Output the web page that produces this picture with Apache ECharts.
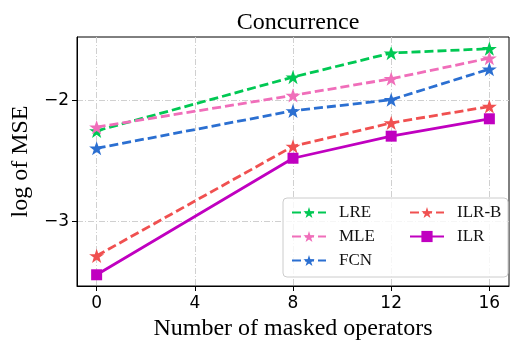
<!DOCTYPE html>
<html>
<head>
<meta charset="utf-8">
<script src="https://cdn.jsdelivr.net/npm/echarts@6/dist/echarts.min.js"></script>
<style>
  html, body { margin: 0; padding: 0; background: #fff; }
  #chart { width: 532px; height: 354px; }
</style>
</head>
<body>
<div id="chart"></div>
<script>
// values
var maskedOps = [0, 8, 12, 16];
var lre  = [-2.252, -1.806, -1.607, -1.571];
var mle  = [-2.221, -1.958, -1.820, -1.649];
var fcn  = [-2.396, -2.086, -1.994, -1.740];
var ilrB = [-3.288, -2.380, -2.186, -2.050];
var ilr  = [-3.445, -2.479, -2.296, -2.152];
var xTicks = [0, 4, 8, 12, 16];
var yTicks = [-3, -2];

var STAR = 'path://M50,0 L61.8,35.1 L98.1,35.1 L68.7,56.8 L79.4,91 L50,70 L20.6,91 L31.3,56.8 L1.9,35.1 L38.2,35.1 Z';
var serif = '"Liberation Serif", "Times New Roman", serif';
var sans = '"DejaVu Sans", sans-serif';

function pairs(ys) {
    var out = [];
    for (var i = 0; i < maskedOps.length; i++) out.push([maskedOps[i], ys[i]]);
    return out;
}

function mkSeries(name, ys, color, dashed, symbol, size) {
    return {
        name: name,
        type: 'line',
        data: pairs(ys),
        symbol: symbol,
        symbolSize: size,
        symbolKeepAspect: true,
        showAllSymbol: true,
        lineStyle: { color: color, width: 2.8, type: dashed ? [9, 4] : 'solid' },
        itemStyle: { color: color },
        emphasis: { disabled: true },
        animation: false
    };
}

var chart = echarts.init(document.getElementById('chart'));
var legendText = { fontFamily: serif, fontSize: 17, color: '#111', padding: [0, 0, 0, 8] };

var option = {
    animation: false,
    title: {
        text: 'Concurrence',
        left: 293, top: 6, textAlign: 'center',
        textStyle: { fontFamily: serif, fontSize: 24, fontWeight: 'normal', color: '#000' }
    },
    grid: { left: 77, right: 23, top: 37, bottom: 68, show: true, borderColor: '#000', borderWidth: 1 },
    xAxis: {
        type: 'value', min: -0.8, max: 16.8,
        name: 'Number of masked operators', nameLocation: 'middle', nameGap: 28,
        nameTextStyle: { fontFamily: serif, fontSize: 24, color: '#000' },
        axisLine: { show: true, onZero: false, lineStyle: { color: '#000', width: 1 } },
        axisTick: { show: true, length: 5, lineStyle: { color: '#000' }, customValues: xTicks },
        axisLabel: { fontFamily: sans, fontSize: 17, color: '#000', margin: 9, customValues: xTicks },
        splitLine: { show: true, lineStyle: { color: '#d0d0d0', width: 1, type: [6, 2, 1, 2] } }
    },
    yAxis: {
        type: 'value', min: -3.538, max: -1.474,
        name: 'log of MSE', nameLocation: 'middle', nameGap: 44,
        nameTextStyle: { fontFamily: serif, fontSize: 24, color: '#000' },
        axisLine: { show: true, onZero: false, lineStyle: { color: '#000', width: 1 } },
        axisTick: { show: true, length: 5, lineStyle: { color: '#000' }, customValues: yTicks },
        axisLabel: {
            fontFamily: sans, fontSize: 17, color: '#000', margin: 8, customValues: yTicks,
            formatter: function (v) { return (v < 0 ? '\u2212' : '') + Math.abs(v); }
        },
        splitLine: { show: true, lineStyle: { color: '#d0d0d0', width: 1, type: [6, 2, 1, 2] } }
    },
    legend: [
        {
            data: ['LRE', 'MLE', 'FCN'], orient: 'vertical', left: 291, top: 204,
            padding: 0, itemWidth: 34, itemHeight: 14, itemGap: 7, textStyle: legendText
        },
        {
            data: ['ILR-B', 'ILR'], orient: 'vertical', left: 409, top: 204,
            padding: 0, itemWidth: 34, itemHeight: 14, itemGap: 7, textStyle: legendText
        }
    ],
    graphic: {
        elements: [{
            type: 'rect', z: 3,
            shape: { x: 283, y: 198, width: 225, height: 79, r: 4 },
            style: { fill: 'rgba(255,255,255,0.8)', stroke: '#cccccc', lineWidth: 1 }
        }]
    },
    series: [
        mkSeries('LRE', lre, '#00c853', true, STAR, 15),
        mkSeries('MLE', mle, '#f06eba', true, STAR, 15),
        mkSeries('FCN', fcn, '#2b6fd1', true, STAR, 15),
        mkSeries('ILR-B', ilrB, '#f05050', true, STAR, 15),
        mkSeries('ILR', ilr, '#c000c0', false, 'rect', 11)
    ]
};
chart.setOption(option);
</script>
</body>
</html>
